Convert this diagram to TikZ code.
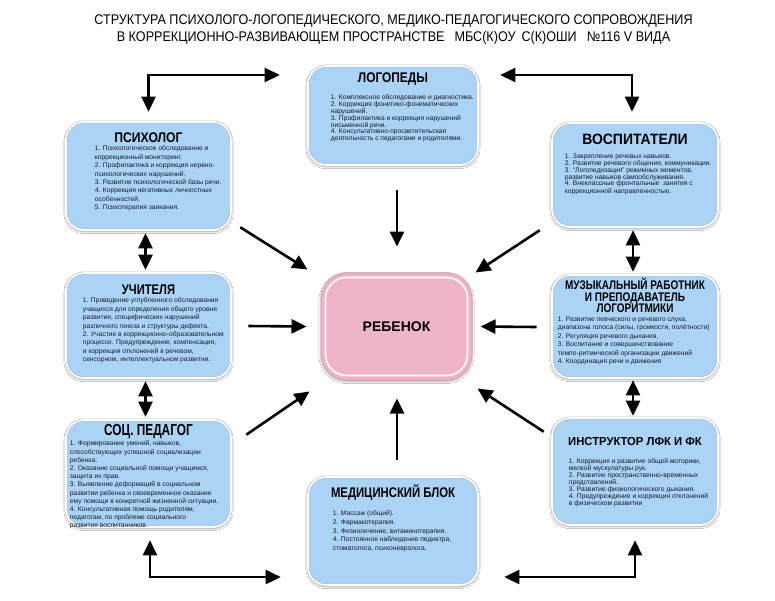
\documentclass[tikz,border=0pt]{standalone}
\usepackage{fontspec}
\usepackage{graphicx}
\setmainfont{Liberation Sans}
\newfontfamily\narrowfont[FakeStretch=0.90]{Liberation Sans}
\usetikzlibrary{arrows.meta,shadows.blur,calc}
\definecolor{boxblue}{RGB}{170,211,246}
\definecolor{boxedge}{RGB}{185,188,198}
\definecolor{rebpink}{RGB}{240,180,200}
\definecolor{rebedge}{RGB}{226,162,186}
\definecolor{bodyink}{RGB}{25,25,40}
\newcommand{\sq}[2]{\scalebox{#1}[1]{#2}}
\tikzset{
  bx/.style={rectangle, rounded corners=18pt, fill=boxblue, draw=boxedge, line width=0.6pt,
    double=white, double distance=1.6pt, inner sep=0pt,
    blur shadow={shadow xshift=0pt, shadow yshift=-1.5pt, shadow blur steps=6, shadow opacity=35}},
  rebbox/.style={rectangle, rounded corners=26pt, fill=rebpink, draw=rebedge, line width=1pt,
    inner sep=0pt, minimum width=151pt, minimum height=107pt,
    blur shadow={shadow xshift=0pt, shadow yshift=-1.5pt, shadow blur steps=6, shadow opacity=35}},
  ttl/.style={font=\bfseries\fontsize{#1}{#1}\selectfont, inner sep=0pt, align=center},
  ttl/.default=14,
  body/.style={font=\fontsize{6.7}{#1}\selectfont, text=bodyink, inner sep=0pt, align=left, anchor=north west},
  arr/.style={line width=2.6pt, -{Triangle[length=15pt,width=14pt]}},
  dbl/.style={line width=2.6pt, {Triangle[length=15pt,width=14pt]}-{Triangle[length=15pt,width=14pt]}}
}
\begin{document}
\begin{tikzpicture}[x=1pt,y=-1pt]
\useasboundingbox (0,0) rectangle (775,600);
\fill[white] (0,0) rectangle (775,600);

\node[font=\narrowfont\fontsize{14}{16.5}\selectfont, align=center, inner sep=0pt] (title) at (393.5,29.5)
  {СТРУКТУРА ПСИХОЛОГО-ЛОГОПЕДИЧЕСКОГО, МЕДИКО-ПЕДАГОГИЧЕСКОГО СОПРОВОЖДЕНИЯ\\
   В КОРРЕКЦИОННО-РАЗВИВАЮЩЕМ ПРОСТРАНСТВЕ\hspace{10pt}МБС(К)ОУ\hspace{6pt}С(К)ОШИ\hspace{10pt}№116 V ВИДА};

% boxes
\node[bx, minimum width=170pt, minimum height=99pt] (log) at (393,115.5) {};
\node[bx, minimum width=165pt, minimum height=108pt] (psy) at (148.5,176) {};
\node[bx, minimum width=166pt, minimum height=104pt] (vos) at (635,175) {};
\node[bx, minimum width=165pt, minimum height=105pt] (uch) at (148.5,325.5) {};
\node[bx, minimum width=166pt, minimum height=103pt] (mus) at (635,326.5) {};
\node[bx, minimum width=165pt, minimum height=107pt] (soc) at (148.5,473.5) {};
\node[bx, minimum width=166pt, minimum height=107pt] (ins) at (635,471.5) {};
\node[bx, minimum width=170pt, minimum height=108pt] (med) at (393,531) {};
\node[rebbox] (reb) at (396.5,326.5) {};
\draw[white, line width=1.6pt, rounded corners=21pt] ($(reb.north west)+(5,5)$) rectangle ($(reb.south east)+(-5,-5)$);
\node[font=\bfseries\fontsize{14}{16}\selectfont, inner sep=0pt] (rebT) at (reb.center) {РЕБЕНОК};

% titles
\node[ttl=14] (logT) at ($(log.north)+(0,13)$) {\sq{0.85}{ЛОГОПЕДЫ}};
\node[ttl=14] (psyT) at ($(psy.north)+(0,16)$) {\sq{0.87}{ПСИХОЛОГ}};
\node[ttl=15] (vosT) at ($(vos.north)+(0,17)$) {\sq{0.93}{ВОСПИТАТЕЛИ}};
\node[ttl=14] (uchT) at ($(uch.north)+(0,17)$) {\sq{0.8}{УЧИТЕЛЯ}};
\node[ttl=12.5, font=\bfseries\fontsize{12.5}{11.5}\selectfont] (musT) at ($(mus.north)+(0,21)$)
  {\sq{0.8}{МУЗЫКАЛЬНЫЙ РАБОТНИК}\\\sq{0.8}{И ПРЕПОДАВАТЕЛЬ}\\\sq{0.8}{ЛОГОРИТМИКИ}};
\node[ttl=16] (socT) at ($(soc.north)+(0,12)$) {\sq{0.74}{СОЦ. ПЕДАГОГ}};
\node[ttl=11.6] (insT) at ($(ins.north)+(0,24)$) {\sq{0.97}{ИНСТРУКТОР ЛФК И ФК}};
\node[ttl=14] (medT) at ($(med.north)+(0,16)$) {\sq{0.81}{МЕДИЦИНСКИЙ БЛОК}};

% bodies
\node[body=6.8] (logB) at ($(log.north west)+(23,29)$) {1. Комплексное обследование и диагностика.\\
2. Коррекция фонетико-фонематических\\нарушений.\\
3. Профилактика и коррекция нарушений\\письменной речи.\\
4. Консультативно-просветительская\\деятельность с педагогами и родителями.};
\node[body=8.4] (psyB) at ($(psy.north west)+(29,24)$) {1. Психологическое обследование и\\коррекционный мониторинг.\\
2. Профилактика и коррекция нервно-\\психологических нарушений.\\
3. Развитие психологической базы речи.\\
4. Коррекция негативных личностных\\особенностей.\\
5. Психотерапия заикания.};
\node[body=6.3] (vosB) at ($(vos.north west)+(13,31)$) {1. Закрепление речевых навыков.\\
2. Развитие речевого общения, коммуникации.\\
3. “Логопедизация” режимных моментов,\\развитие навыков самообслуживания.\\
4. Внеклассные фронтальные\ \ занятия с\\коррекционной направленностью.};
\node[body=8.4] (uchB) at ($(uch.north west)+(17,25)$) {1. Проведение углубленного обследования\\учащихся для определения общего уровня\\развития, специфических нарушений\\различного генеза и структуры дефекта.\\
2. Участие в коррекционно-образовательном\\процессе. Предупреждение, компенсация,\\и коррекция отклонений в речевом,\\сенсорном, интеллектуальном развитии.};
\node[body=8.4] (musB) at ($(mus.north west)+(6,42)$) {1. Развитие певческого и речевого слуха,\\диапазона голоса (силы, громкости, полётности)\\
2. Регуляция речевого дыхания.\\
3. Воспитание и совершенствование\\темпо-ритмической организации движений\\
4. Координация речи и движения};
\node[body=8.2] (socB) at ($(soc.north west)+(4,21)$) {1. Формирование умений, навыков,\\способствующих успешной социализации\\ребенка.\\
2. Оказание социальной помощи учащимся,\\защита их прав.\\
3. Выявление деформаций в социальном\\развитии ребенка и своевременное оказание\\ему помощи в конкретной жизненной ситуации.\\
4. Консультативная помощь родителям,\\педагогам, по проблеме социального\\развития воспитанников.};
\node[body=6.9] (insB) at ($(ins.north west)+(17,41)$) {1. Коррекция и развитие общей моторики,\\мелкой мускулатуры рук.\\
2. Развитие пространственно-временных\\представлений.\\
3. Развитие физиологического дыхания.\\
4. Предупреждение и коррекция отклонений\\в физическом развитии};
\node[body=8.7] (medB) at ($(med.north west)+(25,34)$) {1. Массаж (общий).\\
2. Фармакотерапия.\\
3. Физиолечение, витаминотерапия.\\
4. Постоянное наблюдение педиатра,\\стоматолога, психоневролога.};

% arrows into the child
\draw[arr] ($(log.south)+(4,25)$) -- ($(reb.north)+(0.5,-26)$);
\draw[arr] ($(med.north)+(4,-17)$) -- ($(reb.south)+(0.5,18)$);
\draw[arr] ($(uch.east)+(17,0.5)$) -- ($(reb.west)+(-14,0)$);
\draw[arr] ($(mus.west)+(-15,0.5)$) -- ($(reb.east)+(8,0)$);
\draw[arr] ($(psy.south east)+(9,-3)$) -- ($(reb.north west)+(-13,-3)$);
\draw[arr] ($(vos.south west)+(-12,3)$) -- ($(reb.north east)+(3,0)$);
\draw[arr] ($(soc.north east)+(15,15)$) -- ($(reb.south west)+(-11,11)$);
\draw[arr] ($(ins.north west)+(-8,14)$) -- ($(reb.south east)+(5,8)$);

% vertical double arrows
\draw[dbl] ($(psy.south)+(-3,3)$) -- ($(uch.north)+(-3,-3)$);
\draw[dbl] ($(uch.south)+(-3,3)$) -- ($(soc.north)+(-3,-3)$);
\draw[dbl] ($(vos.south)+(-2,3)$) -- ($(mus.north)+(-2,-3)$);
\draw[dbl] ($(mus.south)+(-2,2)$) -- ($(ins.north)+(-2,-2)$);

% elbow double arrows
\draw[dbl] ($(psy.north)+(0,-10)$) |- ($(log.west)+(-28,-40.5)$);
\draw[dbl] ($(vos.north)+(-3,-11)$) |- ($(log.east)+(22,-40.5)$);
\draw[dbl] ($(soc.south)+(1.5,13)$) |- ($(med.west)+(-27,46)$);
\draw[dbl] ($(ins.south)+(0,15)$) |- ($(med.east)+(26,46)$);
\end{tikzpicture}
\end{document}
